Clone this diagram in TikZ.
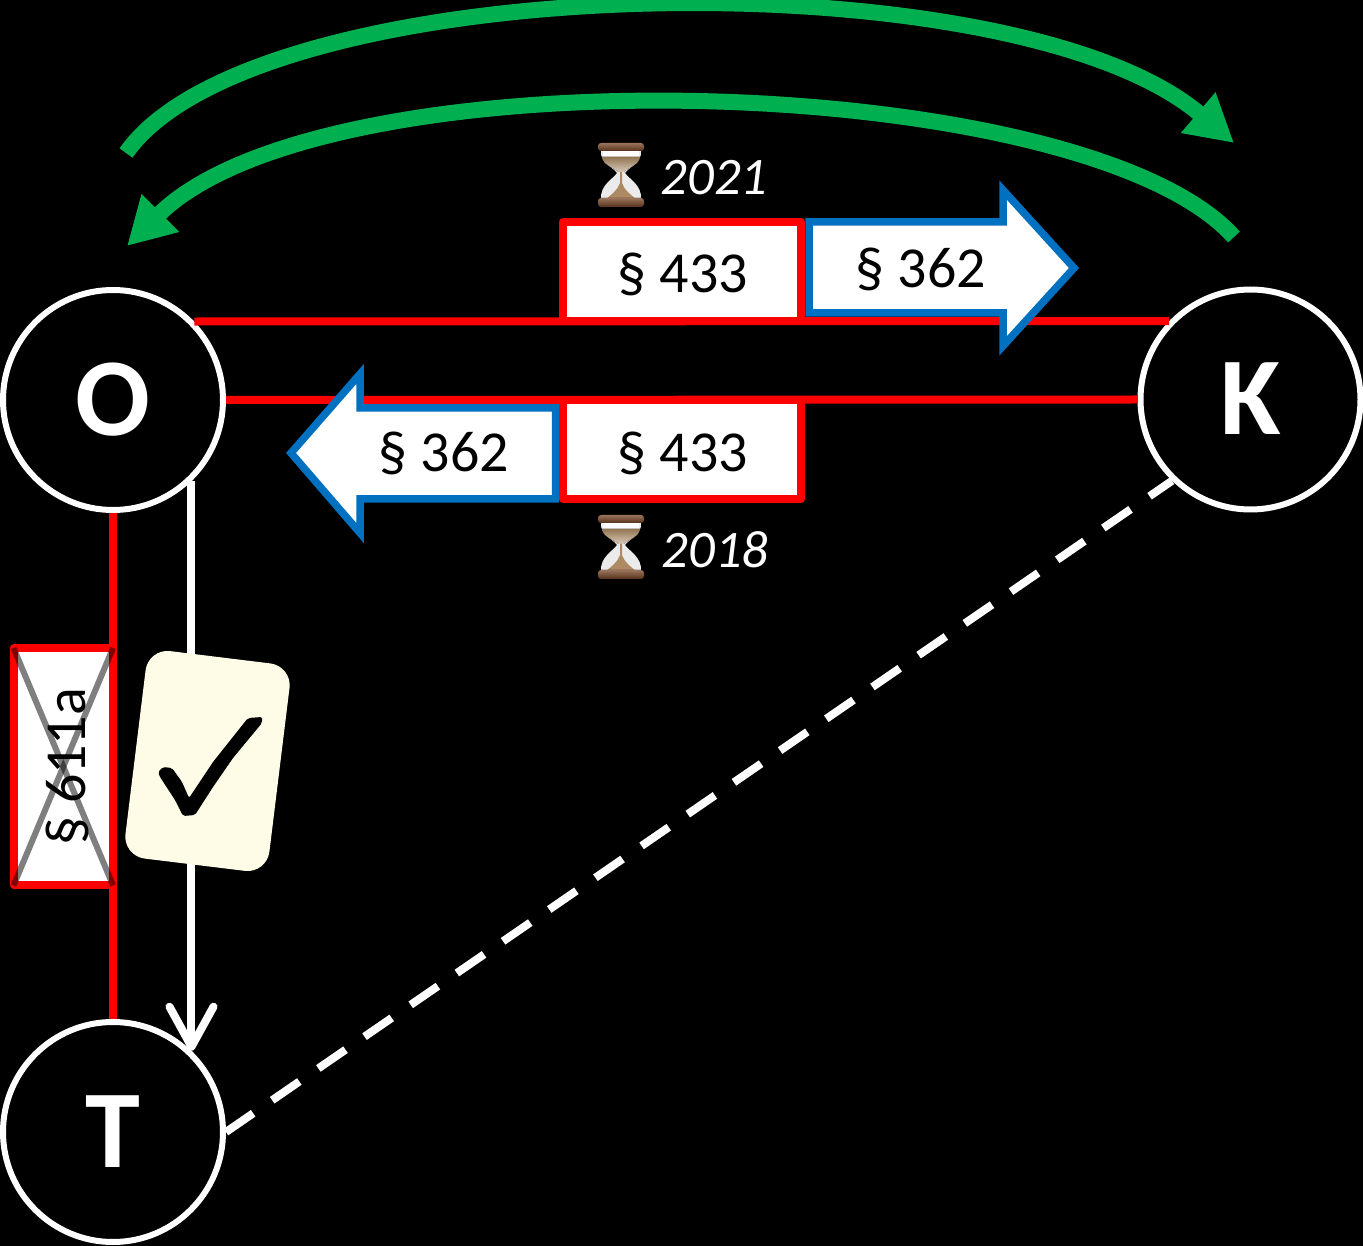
\documentclass[tikz,border=0pt]{standalone}
\usepackage{fontspec}
\setmainfont{Carlito}
\usetikzlibrary{arrows.meta}
\definecolor{grn}{HTML}{00B050}
\definecolor{blu}{HTML}{0070C0}
\definecolor{card}{HTML}{FEFCE6}
\definecolor{wood}{HTML}{7A4526}
\definecolor{sand}{HTML}{AD8A63}
\def\px{0.02cm}
\tikzset{
  person/.style={circle,draw=white,fill=black,line width=6*\px,minimum size=220*\px,inner sep=0pt,text=white,font=\fontsize{63}{66}\selectfont\bfseries},
  redline/.style={draw=red,line width=8*\px},
  parabox/.style={rectangle,draw=red,fill=white,line width=8*\px,line join=round,inner sep=0pt,outer sep=0pt},
  bluearrow/.style={draw=blu,fill=white,line width=7.5*\px,miter limit=10},
  label/.style={inner sep=0pt,anchor=base,text=black,font=\fontsize{33}{36}\selectfont},
  year/.style={inner sep=0pt,anchor=base,text=white,font=\fontsize{30}{34}\selectfont\itshape},
  greenarrow/.style={draw=grn,line width=16*\px,-{Triangle[length=47*\px,width=50*\px]}},
  hourglass/.pic={
    \fill[black!8!white] (-20,-24) .. controls (-21,-12) and (-8,-8) .. (-4,-2) .. controls (-8,4) and (-21,10) .. (-20,24) -- (20,24) .. controls (21,10) and (8,4) .. (4,-2) .. controls (8,-8) and (21,-12) .. (20,-24) -- cycle;
    \fill[top color=sand!85!black,bottom color=sand!45!white] (-19,-18) .. controls (-18,-10) and (-8,-8) .. (-3,-3) -- (3,-3) .. controls (8,-8) and (18,-10) .. (19,-18) -- cycle;
    \fill[sand] (-1,-3) -- (-1,8) .. controls (-3,15) and (-10,20) .. (-15,24) -- (15,24) .. controls (10,20) and (3,15) .. (1,8) -- (1,-3) -- cycle;
    \fill[white] (-18,-24) rectangle (18,-19);
    \fill[top color=wood!75!white,bottom color=wood!70!black,rounded corners=3*\px] (-23,-32) rectangle (23,-24);
    \fill[top color=wood!75!white,bottom color=wood!70!black,rounded corners=3*\px] (-23,23) rectangle (23,32);
  }
}
\begin{document}
\begin{tikzpicture}[x=0.02cm,y=-0.02cm]
\useasboundingbox (0,0) rectangle (1363,1246);
\fill[black] (0,0) rectangle (1363,1246);
% people
\node[person] (O) at (113,400) {\raisebox{0.6pt}{O}};
\node[person] (K) at (1250.5,399.5) {\raisebox{0.6pt}{K}};
\node[person] (T) at (113,1132) {\raisebox{1pt}{T}};
% connectors
\draw[redline] (O.44) -- (K.136);
\draw[redline] (O.east) -- (K.west);
\draw[redline] (O.south) -- (T.north);
\draw[white,line width=8*\px,-{Straight Barb[length=40*\px,width=44*\px,line width=8*\px,round]}] (O.-46.5) -- (T.46.5);
\draw[white,line width=8*\px,dash pattern=on 33*\px off 23.06*\px] (T.east) -- (K.-134);
% green arrows
\coordinate (g1s) at (126,153);
\coordinate (g1e) at (1234,143);
\coordinate (g2s) at (1234,237);
\coordinate (g2e) at (127,246);
\draw[greenarrow] (g1s) .. controls (256,-32) and (1010,-47) .. (g1e);
\draw[greenarrow] (g2s) .. controls (1084,70) and (326,49) .. (g2e);
% blue arrows
\draw[bluearrow] (809,222) -- (1003,222) -- (1003,190) -- (1074,268) -- (1003,346) -- (1003,313) -- (809,313) -- cycle;
\node[label] (a1) at (921,288) {§ 362};
\draw[bluearrow] (555.5,408) -- (360,408) -- (360,374) -- (291,453) -- (360,533) -- (360,499) -- (555.5,499) -- cycle;
\node[label] (a2) at (444,472) {§ 362};
% red boxes
\node[parabox,minimum width=238*\px,minimum height=99*\px] (b1) at (682,271.5) {};
\node[label] (t1) at (683,293) {§ 433};
\node[parabox,minimum width=238*\px,minimum height=99*\px] (b2) at (682,449.5) {};
\node[label] (t2) at (683,472) {§ 433};
% years
\pic at (621,175) {hourglass};
\node[year] (y1) at (714,195) {2021};
\pic at (621,547) {hourglass};
\node[year] (y2) at (715,568) {2018};
% struck box
\node[parabox,minimum width=99.5*\px,minimum height=237.5*\px] (s) at (63.3,766.7) {};
\node[label,rotate=90] (t3) at (85,767) {§ 611a};
\draw[black,opacity=.5,line width=6*\px] (s.north west) -- (s.south east);
\draw[black,opacity=.5,line width=6*\px] (s.north east) -- (s.south west);
% card
\node[rectangle,rotate=-7,fill=card,rounded corners=22*\px,minimum width=145*\px,minimum height=209*\px,inner sep=0pt] (c) at (207.5,761) {};
\fill[black,rounded corners=2*\px] (158,772) -- (163,767) -- (172,768) -- (182,782) -- (189,798) -- (213,762) -- (248,718) -- (262,717) -- (262,723) -- (233,758) -- (213,787) -- (195,815) -- (183,816) -- (175,800) -- (160,777) -- cycle;
\end{tikzpicture}
\end{document}
